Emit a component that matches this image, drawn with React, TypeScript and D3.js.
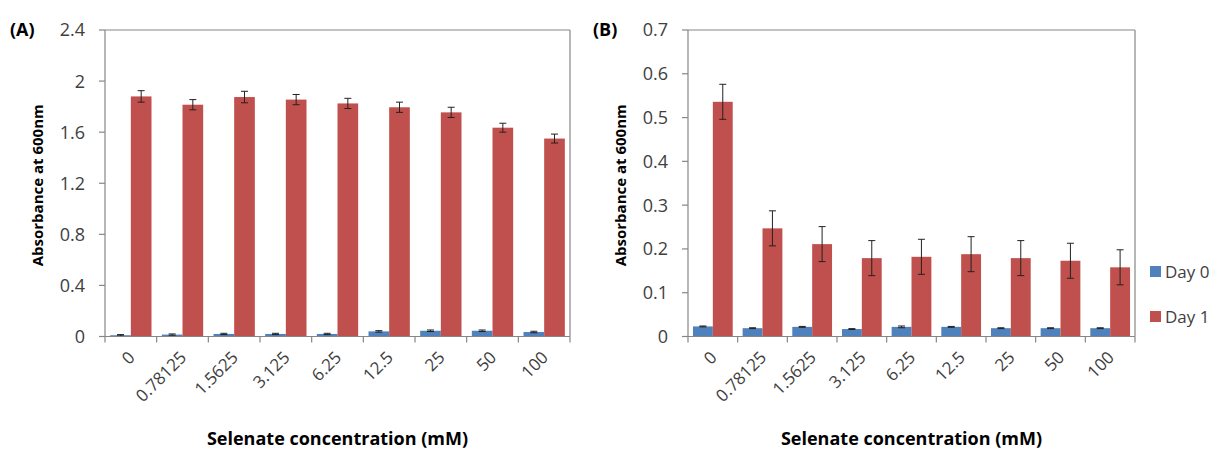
import React from "react";
import * as d3 from "d3";

const categories = ["0", "0.78125", "1.5625", "3.125", "6.25", "12.5", "25", "50", "100"];
const seriesNames = ["Day 0", "Day 1"];

const aDay0 = [0.01, 0.015, 0.02, 0.02, 0.02, 0.04, 0.045, 0.045, 0.035];
const aDay0Err = [0.005, 0.005, 0.005, 0.005, 0.005, 0.006, 0.006, 0.006, 0.006];
const aDay1 = [1.88, 1.815, 1.875, 1.855, 1.825, 1.795, 1.755, 1.635, 1.55];
const aDay1Err = [0.045, 0.04, 0.045, 0.04, 0.04, 0.04, 0.04, 0.035, 0.035];
const aTicks = [0, 0.4, 0.8, 1.2, 1.6, 2, 2.4];

const bDay0 = [0.023, 0.019, 0.022, 0.017, 0.022, 0.022, 0.019, 0.019, 0.019];
const bDay0Err = [0.001, 0.001, 0.001, 0.001, 0.002, 0.001, 0.001, 0.001, 0.001];
const bDay1 = [0.536, 0.247, 0.211, 0.179, 0.182, 0.188, 0.179, 0.173, 0.158];
const bDay1Err = [0.04, 0.04, 0.04, 0.04, 0.04, 0.04, 0.04, 0.04, 0.04];
const bTicks = [0, 0.1, 0.2, 0.3, 0.4, 0.5, 0.6, 0.7];

const COLORS = ["#4F81BD", "#C0504D"];
const AXIS = "#868686";
const FONT = "'Open Sans', 'DejaVu Sans', sans-serif";

type PanelProps = {
  label: string;
  x0: number;
  x1: number;
  yMax: number;
  ticks: number[];
  fmt: (v: number) => string;
  day0: number[];
  day0Err: number[];
  day1: number[];
  day1Err: number[];
};

function Panel({ label, x0, x1, yMax, ticks, fmt, day0, day0Err, day1, day1Err }: PanelProps) {
  const top = 30;
  const bottom = 336.5;
  const y = d3.scaleLinear().domain([0, yMax]).range([bottom, top]);
  const x = d3.scaleBand<string>().domain(categories).range([x0, x1]).paddingInner(0.2).paddingOuter(0.1);
  const inner = d3.scaleBand<string>().domain(seriesNames).range([0, x.bandwidth()]).padding(0);
  const step = x.step();
  const series = [
    { name: seriesNames[0], vals: day0, errs: day0Err },
    { name: seriesNames[1], vals: day1, errs: day1Err },
  ];
  const midX = (x0 + x1) / 2;
  return (
    <g>
      <text x={x0 - 95} y={top + 6} fontFamily={FONT} fontWeight="bold" fontSize={18} fill="#000">
        {label}
      </text>
      {/* plot frame */}
      <line x1={x0} x2={x1} y1={top} y2={top} stroke={AXIS} strokeWidth={1.2} />
      <line x1={x1} x2={x1} y1={top} y2={bottom} stroke={AXIS} strokeWidth={1.2} />
      {/* bars */}
      {series.map((s, si) =>
        s.vals.map((v, i) => {
          const bx = (x(categories[i]) as number) + (inner(s.name) as number);
          const bw = inner.bandwidth();
          const cx = bx + bw / 2;
          return (
            <g key={s.name + i}>
              <rect x={bx} y={y(v)} width={bw} height={bottom - y(v)} fill={COLORS[si]} />
              <line x1={cx} x2={cx} y1={y(v + s.errs[i])} y2={y(Math.max(0, v - s.errs[i]))} stroke="#222" strokeWidth={1} />
              <line x1={cx - 3.5} x2={cx + 3.5} y1={y(v + s.errs[i])} y2={y(v + s.errs[i])} stroke="#222" strokeWidth={1} />
              <line x1={cx - 3.5} x2={cx + 3.5} y1={y(Math.max(0, v - s.errs[i]))} y2={y(Math.max(0, v - s.errs[i]))} stroke="#222" strokeWidth={1} />
            </g>
          );
        })
      )}
      {/* y axis */}
      <line x1={x0} x2={x0} y1={top} y2={bottom} stroke={AXIS} strokeWidth={1.2} />
      {ticks.map((t) => (
        <g key={t}>
          <line x1={x0 - 6} x2={x0} y1={y(t)} y2={y(t)} stroke={AXIS} strokeWidth={1.2} />
          <text x={x0 - 20} y={y(t)} dy="0.36em" textAnchor="end" fontFamily={FONT} fontSize={18} fill="#404040">
            {fmt(t)}
          </text>
        </g>
      ))}
      {/* x axis */}
      <line x1={x0} x2={x1} y1={bottom} y2={bottom} stroke={AXIS} strokeWidth={1.2} />
      {d3.range(categories.length + 1).map((k) => (
        <line key={k} x1={x0 + k * step} x2={x0 + k * step} y1={bottom} y2={bottom + 6} stroke={AXIS} strokeWidth={1.2} />
      ))}
      {categories.map((c) => {
        const cx = (x(c) as number) + x.bandwidth() / 2;
        const ty = bottom + 22;
        const tx = cx + 5;
        return (
          <text key={c} x={tx} y={ty} textAnchor="end" fontFamily={FONT} fontSize={17} fill="#404040"
            transform={`rotate(-45 ${tx} ${ty})`}>
            {c}
          </text>
        );
      })}
      <text x={midX} y={445} textAnchor="middle" fontFamily={FONT} fontWeight="bold" fontSize={18} fill="#000">
        Selenate concentration (mM)
      </text>
      <text transform={`translate(${x0 - 62},${(top + bottom) / 2 + 2}) rotate(-90)`} textAnchor="middle"
        fontFamily={FONT} fontWeight="bold" fontSize={15} fill="#000">
        Absorbance at 600nm
      </text>
    </g>
  );
}

export default function App() {
  return (
    <svg width={1228} height={453} style={{ position: "absolute", left: 0, top: 0, background: "#fff" }}>
      <rect width={1228} height={453} fill="#fff" />
      <Panel label="(A)" x0={105} x1={570} yMax={2.4} ticks={aTicks} fmt={(v) => d3.format("~g")(v)}
        day0={aDay0} day0Err={aDay0Err} day1={aDay1} day1Err={aDay1Err} />
      <Panel label="(B)" x0={688} x1={1135} yMax={0.7} ticks={bTicks} fmt={(v) => d3.format("~g")(v)}
        day0={bDay0} day0Err={bDay0Err} day1={bDay1} day1Err={bDay1Err} />
      {seriesNames.map((n, i) => (
        <g key={n}>
          <rect x={1150} y={266 + i * 45} width={11} height={11} fill={COLORS[i]} />
          <text x={1165} y={272 + i * 45} dy="0.36em" fontFamily={FONT} fontSize={17} fill="#404040">
            {n}
          </text>
        </g>
      ))}
    </svg>
  );
}
